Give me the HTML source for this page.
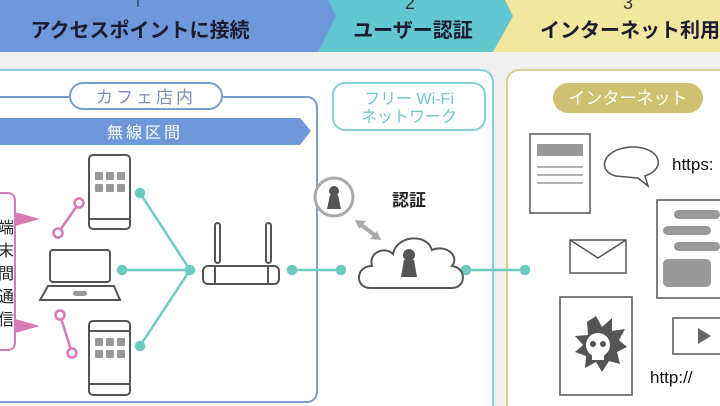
<!DOCTYPE html>
<html><head><meta charset="utf-8"><style>
html,body{margin:0;padding:0;background:#f0f0f0;width:720px;height:406px;overflow:hidden}
svg{display:block}
text{font-family:"Liberation Sans","Noto Sans CJK JP",sans-serif}
</style></head><body>
<svg width="720" height="406" viewBox="0 0 720 406" xmlns="http://www.w3.org/2000/svg">
<rect width="720" height="406" fill="#f0f0f0"/>
<polygon points="490,0 720,0 720,52 490,52" fill="#f1e79e"/>
<polygon points="300,0 505,0 513,16 493,52 300,52" fill="#63c7cf"/>
<polygon points="0,0 328,0 336,16 318,52 0,52" fill="#6e98d9"/>
<line x1="138" y1="0" x2="138" y2="7" stroke="#222" stroke-width="1"/>
<text x="140" y="37" font-size="20" font-weight="bold" text-anchor="middle" fill="#1c1c30">アクセスポイントに接続</text>
<text x="410" y="9" font-size="18" text-anchor="middle" fill="#333">2</text>
<text x="413" y="37" font-size="20" font-weight="bold" text-anchor="middle" fill="#1c1c30">ユーザー認証</text>
<text x="628" y="9" font-size="18" text-anchor="middle" fill="#333">3</text>
<text x="540" y="37" font-size="20" font-weight="bold" fill="#1c1c30">インターネット利用</text>
<path d="M0,70 H481 A12,12 0 0 1 493,82 V406 H0 Z" fill="#fff"/>
<path d="M0,70 H481 A12,12 0 0 1 493,82 V406" fill="none" stroke="#86d0d3" stroke-width="2"/>
<path d="M720,70 H519 A12,12 0 0 0 507,82 V406 H720 Z" fill="#fff"/>
<path d="M720,70 H519 A12,12 0 0 0 507,82 V406" fill="none" stroke="#d9d08c" stroke-width="2"/>
<path d="M0,97 H307 A10,10 0 0 1 317,107 V392 A10,10 0 0 1 307,402 H0" fill="none" stroke="#7c9ccf" stroke-width="2"/>
<rect x="70" y="83" width="152" height="26" rx="13" fill="#fff" stroke="#7c9ccf" stroke-width="2"/>
<text x="146" y="103" font-size="17" text-anchor="middle" fill="#7d8fb5" letter-spacing="3">カフェ店内</text>
<polygon points="0,118 300,118 311,131 300,145 0,145" fill="#6e98d9"/>
<text x="145" y="138" font-size="16" text-anchor="middle" fill="#fff" letter-spacing="3">無線区間</text>
<rect x="333" y="83" width="152" height="47" rx="12" fill="#fff" stroke="#86d0d3" stroke-width="2"/>
<text x="409" y="104" font-size="16" text-anchor="middle" fill="#72c6cb">フリー Wi-Fi</text>
<text x="409" y="122" font-size="16" text-anchor="middle" fill="#72c6cb">ネットワーク</text>
<rect x="553" y="83" width="150" height="30" rx="15" fill="#cfc171"/>
<text x="628" y="104" font-size="17" text-anchor="middle" fill="#fff">インターネット</text>
<path d="M0,193 H8 A7,7 0 0 1 15,200 V343 A7,7 0 0 1 8,350 H0" fill="none" stroke="#d77bb6" stroke-width="2"/>
<g font-size="16" fill="#222"><text x="-2" y="233">端</text><text x="-2" y="256">末</text><text x="-2" y="279">間</text><text x="-2" y="302">通</text><text x="-2" y="325">信</text></g>
<polygon points="15,212 40,219 15,226" fill="#d77bb6"/>
<polygon points="15,319 40,326 15,333" fill="#d77bb6"/>
<g stroke="#d77bb6" stroke-width="2.5" fill="#fff">
<line x1="79" y1="203" x2="58" y2="233"/><circle cx="79" cy="203" r="4.5"/><circle cx="58" cy="233" r="4.5"/>
<line x1="60" y1="315" x2="72" y2="353"/><circle cx="60" cy="315" r="4.5"/><circle cx="72" cy="353" r="4.5"/>
</g>
<g stroke="#6ccbbf" stroke-width="2.5" fill="#6ccbbf">
<line x1="140" y1="193" x2="190" y2="270"/><line x1="122" y1="270" x2="190" y2="270"/><line x1="140" y1="346" x2="190" y2="270"/>
<line x1="292" y1="270" x2="341" y2="270"/><line x1="466" y1="270" x2="525" y2="270"/>
<circle cx="140" cy="193" r="4"/><circle cx="122" cy="270" r="4"/><circle cx="140" cy="346" r="4"/><circle cx="190" cy="270" r="4"/>
<circle cx="292" cy="270" r="4"/><circle cx="341" cy="270" r="4"/><circle cx="466" cy="270" r="4"/><circle cx="525" cy="270" r="4"/>
</g>
<g stroke="#555" stroke-width="2" fill="#fff">
<rect x="89" y="155" width="41" height="74" rx="4"/><line x1="89" y1="219" x2="130" y2="219"/>
<rect x="89" y="321" width="41" height="74" rx="4"/><line x1="89" y1="331" x2="130" y2="331"/><line x1="89" y1="384" x2="130" y2="384"/>
<rect x="50" y="250" width="60" height="32" rx="3"/>
<path d="M48,286 L114,286 L120,300 L40,300 Z"/>
<rect x="215" y="223" width="5" height="40" rx="2.5"/><rect x="266" y="223" width="5" height="40" rx="2.5"/>
<rect x="203" y="266" width="76" height="18" rx="5"/>
<line x1="215" y1="266" x2="215" y2="284"/><line x1="268" y1="266" x2="268" y2="284"/>
</g>
<g fill="#999">
<rect x="95" y="172" width="8" height="8" rx="1"/><rect x="106" y="172" width="8" height="8" rx="1"/><rect x="117" y="172" width="8" height="8" rx="1"/>
<rect x="95" y="184" width="8" height="8" rx="1"/><rect x="106" y="184" width="8" height="8" rx="1"/><rect x="117" y="184" width="8" height="8" rx="1"/>
<rect x="95" y="338" width="8" height="8" rx="1"/><rect x="106" y="338" width="8" height="8" rx="1"/><rect x="117" y="338" width="8" height="8" rx="1"/>
<rect x="95" y="350" width="8" height="8" rx="1"/><rect x="106" y="350" width="8" height="8" rx="1"/><rect x="117" y="350" width="8" height="8" rx="1"/>
<rect x="73" y="291" width="14" height="5" rx="2.5"/>
</g>
<circle cx="334" cy="197" r="19" fill="#fff" stroke="#aaa" stroke-width="3"/>
<g fill="#555"><circle cx="334" cy="191" r="5"/><path d="M330,195 L338,195 L341,209 L327,209 Z"/></g>
<g stroke="#aaa" stroke-width="4"><line x1="360" y1="224" x2="376" y2="236"/></g>
<polygon points="355,220 366,221 359,229" fill="#aaa"/><polygon points="381,240 370,239 377,231" fill="#aaa"/>
<text x="409" y="206" font-size="17" font-weight="bold" text-anchor="middle" fill="#222">認証</text>
<path d="M370,288 C355,288 355,266 372,266 C368,252 385,246 393,254 C396,236 426,232 432,250 C446,244 460,256 452,266 C467,268 466,288 452,288 Z" fill="#fff" stroke="#555" stroke-width="2"/>
<g fill="#555"><circle cx="409" cy="255" r="6"/><path d="M404,260 L414,260 L417,277 L401,277 Z"/></g>
<g stroke="#555" stroke-width="1.5" fill="#fff">
<rect x="530" y="134" width="60" height="79"/>
<path d="M616,176 C598,172 600,150 630,147 C660,146 668,168 645,176 L648,186 L638,178 Z"/>
<path d="M720,200 H657 V298 H720"/>
<rect x="570" y="240" width="56" height="33"/><path d="M570,240 L598,258 L626,240" fill="none"/>
<rect x="560" y="297" width="72" height="98"/>
<path d="M720,318 H673 V354 H720"/>
</g>
<rect x="537" y="144" width="46" height="12" fill="#999"/>
<g stroke="#999" stroke-width="1.5"><line x1="537" y1="167" x2="583" y2="167"/><line x1="537" y1="175" x2="583" y2="175"/><line x1="537" y1="183" x2="583" y2="183"/></g>
<g fill="#999"><rect x="674" y="210" width="46" height="9" rx="4.5"/><rect x="663" y="226" width="48" height="9" rx="4.5"/><rect x="674" y="242" width="46" height="9" rx="4.5"/><rect x="663" y="259" width="48" height="28" rx="5"/></g>
<polygon points="698,328 698,344 711,336" fill="#666"/>
<polygon points="596,316 602,327 612,318 612,331 625,329 619,340 627,347 617,352 620,364 609,361 602,372 596,362 585,368 586,356 575,352 583,345 575,336 588,335 587,322" fill="#555"/>
<circle cx="598" cy="345" r="12" fill="#fff"/><rect x="592" y="352" width="12" height="8" fill="#fff"/>
<circle cx="593" cy="344" r="3" fill="#555"/><circle cx="603" cy="344" r="3" fill="#555"/>
<text x="672" y="170" font-size="17" fill="#111">https:</text>
<text x="650" y="383" font-size="17" fill="#111">http://</text>
</svg>
</body></html>
